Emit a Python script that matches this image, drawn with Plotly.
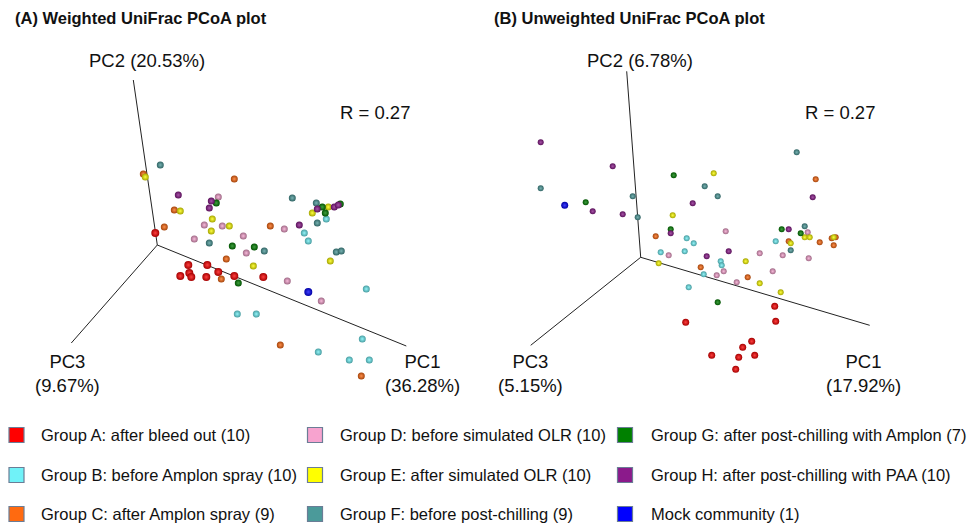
import plotly.graph_objects as go

# ---------------- data (projected PCoA coordinates, origin = axes origin) ----------------
groups = ["A", "B", "C", "D", "E", "F", "G", "H", "Mock"]
group_labels = [
    "Group A: after bleed out (10)",
    "Group B: before Amplon spray (10)",
    "Group C: after Amplon spray (9)",
    "Group D: before simulated OLR (10)",
    "Group E: after simulated OLR (10)",
    "Group F: before post-chilling (9)",
    "Group G: after post-chilling with Amplon (7)",
    "Group H: after post-chilling with PAA (10)",
    "Mock community (1)",
]
group_colors = ["#ff0000", "#70f2f8", "#ff6a10", "#f7a3cf", "#ffff00",
                "#4b9a9a", "#008000", "#8b1a8b", "#0000ff"]

# Panel A: weighted UniFrac
wA_x = [-0.02, 0.31, 0.50, 0.32, 0.23, 0.34, 0.49, 0.61, 0.77, 1.06]
wA_y = [0.12, -0.20, -0.20, -0.28, -0.31, -0.32, -0.32, -0.27, -0.31, -0.32]
wB_x = [1.69, 1.47, 1.51, 2.09, 0.80, 0.99, 2.05, 1.61, 1.92, 2.12]
wB_y = [0.26, 0.12, 0.04, -0.44, -0.69, -0.69, -0.94, -1.07, -1.15, -1.15]
wC_x = [-0.14, 0.77, 0.17, 1.13, 0.07, 0.69, 0.64, 1.23, 2.04]
wC_y = [0.71, 0.66, 0.35, 0.19, 0.18, -0.14, -0.34, -1.00, -1.31]
wD_x = [0.61, 0.47, 0.65, 1.27, 0.37, 0.86, 0.89, 1.30, 1.64]
wD_y = [0.48, 0.20, 0.19, 0.16, 0.06, 0.09, -0.08, -0.36, -0.56]
wE_x = [-0.12, 0.23, 0.55, 0.54, 0.72, 1.55, 1.71, 1.73, 0.96]
wE_y = [0.68, 0.34, 0.26, 0.14, 0.19, 0.32, 0.38, -0.16, -0.21]
wF_x = [0.03, 1.35, 1.59, 1.60, 0.52, 1.07, 1.79, 1.84]
wF_y = [0.80, 0.47, 0.42, 0.22, 0.02, -0.06, -0.07, -0.06]
wG_x = [0.59, 1.65, 1.68, 1.83, 0.75, 0.97, 0.81]
wG_y = [0.42, 0.38, 0.32, 0.41, -0.01, -0.02, -0.38]
wH_x = [0.21, 0.54, 0.52, 1.60, 1.77, 1.81, 1.42]
wH_y = [0.50, 0.44, 0.37, 0.36, 0.38, 0.40, 0.20]
wM_x = [1.51]
wM_y = [-0.47]

# Panel B: unweighted UniFrac
uA_x = [1.34, 0.45, 1.35, 1.11, 1.02, 0.71, 0.98, 1.14, 0.95]
uA_y = [-0.49, -0.65, -0.64, -0.84, -0.90, -0.98, -1.00, -0.98, -1.12]
uB_x = [0.46, 0.53, 0.20, 0.44, 0.80, 0.81, 0.63, 0.48, 1.35]
uB_y = [0.19, 0.14, 0.05, 0.06, -0.04, -0.08, -0.17, -0.30, 0.16]
uC_x = [1.75, 0.15, 0.60, 1.07, 1.48, 1.79, 1.95, 1.93, 1.91]
uC_y = [0.78, 0.21, -0.10, -0.20, 0.16, 0.15, 0.20, 0.12, 0.19]
uD_x = [0.85, 0.28, 1.19, 0.83, 0.76, 0.96, 1.32, 1.67, 1.42, 1.68]
uD_y = [0.26, 0.02, 0.04, -0.14, -0.18, -0.25, -0.14, 0.25, 0.02, -0.01]
uE_x = [0.73, 0.32, 0.18, 1.05, 1.19, 1.40, 1.64, 1.69, 1.93, 1.50]
uE_y = [0.84, 0.42, -0.06, -0.04, -0.26, -0.35, 0.20, 0.20, 0.20, 0.14]
uF_x = [1.56, -1.00, 0.64, 0.77, -0.08, -0.03, 1.64, 1.50]
uF_y = [1.05, 0.69, 0.71, 0.61, 0.61, 0.40, 0.31, 0.07]
uG_x = [0.33, -0.55, 0.30, 0.77, 1.41, 1.60]
uG_y = [0.82, 0.55, 0.28, -0.45, 0.28, 0.24]
uH_x = [-1.00, -0.28, 1.72, -0.48, -0.18, 0.52, 0.30, 0.66, 0.88, 1.48]
uH_y = [1.15, 0.91, 0.60, 0.46, 0.43, 0.54, 0.24, 0.01, 0.06, 0.28]
uM_x = [-0.76]
uM_y = [0.52]

panelA = [(wA_x, wA_y), (wB_x, wB_y), (wC_x, wC_y), (wD_x, wD_y), (wE_x, wE_y),
          (wF_x, wF_y), (wG_x, wG_y), (wH_x, wH_y), (wM_x, wM_y)]
panelB = [(uA_x, uA_y), (uB_x, uB_y), (uC_x, uC_y), (uD_x, uD_y), (uE_x, uE_y),
          (uF_x, uF_y), (uG_x, uG_y), (uH_x, uH_y), (uM_x, uM_y)]

panel_titles = ["<b>(A) Weighted UniFrac PCoA plot</b>", "<b>(B) Unweighted UniFrac PCoA plot</b>"]
pc_labels_A = ["PC1<br>(36.28%)", "PC2 (20.53%)", "PC3<br>(9.67%)"]
pc_labels_B = ["PC1<br>(17.92%)", "PC2 (6.78%)", "PC3<br>(5.15%)"]
r_text = "R = 0.27"

# ---------------- helpers ----------------
def shade(hexc, f):
    h = hexc.lstrip("#")
    r, g, b = int(h[0:2], 16), int(h[2:4], 16), int(h[4:6], 16)
    if f < 0:
        r, g, b = [int(c * (1 + f)) for c in (r, g, b)]
    else:
        r, g, b = [int(c + (255 - c) * f) for c in (r, g, b)]
    return "#%02x%02x%02x" % (r, g, b)

FONT = "Liberation Sans, Arial, sans-serif"
fig = go.Figure()

# axis geometry (layout): endpoints of PC1, PC2, PC3 in each panel's coordinates
axes_geom = {
    "A": {"PC1": (2.49, -1.01), "PC2": (-0.24, 1.65), "PC3": (-0.86, -0.98)},
    "B": {"PC1": (2.29, -0.68), "PC2": (-0.14, 1.86), "PC3": (-1.10, -0.88)},
}

for key, xa, ya in [("A", "x", "y"), ("B", "x2", "y2")]:
    for pc in ["PC1", "PC2", "PC3"]:
        ex, ey = axes_geom[key][pc]
        fig.add_trace(go.Scatter(x=[0, ex], y=[0, ey], mode="lines",
                                 line=dict(color="#222222", width=1),
                                 xaxis=xa, yaxis=ya, showlegend=False, hoverinfo="skip"))

for data, xa, ya, big in [(panelA, "x", "y", 8), (panelB, "x2", "y2", 7)]:
    for i, (xs, ys) in enumerate(data):
        col = group_colors[i]
        size = big if i in (0, 8) else big - 1
        fig.add_trace(go.Scatter(
            x=xs, y=ys, mode="markers", xaxis=xa, yaxis=ya, showlegend=False,
            name=group_labels[i],
            marker=dict(size=size, color=shade(col, -0.35),
                        gradient=dict(type="radial", color=shade(col, 0.25)),
                        line=dict(width=0)),
        ))

# legend (3 x 3 grid, column-major)
leg_cols_x = [16.5, 315, 625]
leg_text_x = [39, 337.5, 648.5]
leg_rows_y = [435, 475, 514]
for i, lab in enumerate(group_labels):
    c, r = divmod(i, 3)
    fig.add_trace(go.Scatter(
        x=[leg_cols_x[c]], y=[leg_rows_y[r]], mode="markers", xaxis="x3", yaxis="y3",
        showlegend=False, hoverinfo="skip",
        marker=dict(symbol="square", size=15, color=group_colors[i],
                    line=dict(color="#6b7d96", width=1.2)),
    ))
    fig.add_annotation(x=leg_text_x[c], y=leg_rows_y[r], xref="x3", yref="y3",
                       text=lab, showarrow=False, xanchor="left", yanchor="middle",
                       font=dict(family=FONT, size=16.5, color="#111111"))

# axis labels
label_pos = {
    "A": [(2.65, -1.285), (-0.10, 1.85), (-0.90, -1.285)],
    "B": [(2.23, -1.162), (-0.007, 1.973), (-1.107, -1.162)],
}
r_pos = {"A": (2.18, 1.33), "B": (1.99, 1.45)}
for key, labs, xr, yr in [("A", pc_labels_A, "x", "y"), ("B", pc_labels_B, "x2", "y2")]:
    for lab, (lx, ly) in zip(labs, label_pos[key]):
        fig.add_annotation(x=lx, y=ly, xref=xr, yref=yr, text=lab, showarrow=False,
                           font=dict(family=FONT, size=18.5, color="#111111"))
    fig.add_annotation(x=r_pos[key][0], y=r_pos[key][1], xref=xr, yref=yr, text=r_text,
                       showarrow=False, font=dict(family=FONT, size=18.5, color="#111111"))

# panel titles
for t, px in zip(panel_titles, [13, 492]):
    fig.add_annotation(x=px / 969, y=1 - 18 / 525, xref="paper", yref="paper", text=t,
                       showarrow=False, xanchor="left", yanchor="middle",
                       font=dict(family=FONT, size=16.5, color="#111111"))

W, H = 969, 525
half = W / 2
fig.update_layout(
    width=W, height=H, margin=dict(l=0, r=0, t=0, b=0),
    paper_bgcolor="white", plot_bgcolor="rgba(0,0,0,0)",
    xaxis=dict(domain=[0, 0.5], range=[-157.3 / 100, (half - 157.3) / 100], visible=False),
    yaxis=dict(domain=[0, 1], range=[-(H - 245) / 100, 245 / 100], visible=False),
    xaxis2=dict(domain=[0.5, 1], range=[-(640.7 - half) / 100, (W - 640.7) / 100], visible=False),
    yaxis2=dict(domain=[0, 1], range=[-(H - 257.3) / 100, 257.3 / 100], visible=False, anchor="x2"),
    xaxis3=dict(domain=[0, 1], range=[0, W], visible=False, anchor="y3"),
    yaxis3=dict(domain=[0, 1], range=[H, 0], visible=False, anchor="x3"),
    showlegend=False,
)

fig.write_html("out.html", config={"displayModeBar": False},
               post_script="document.body.style.margin='0';")
